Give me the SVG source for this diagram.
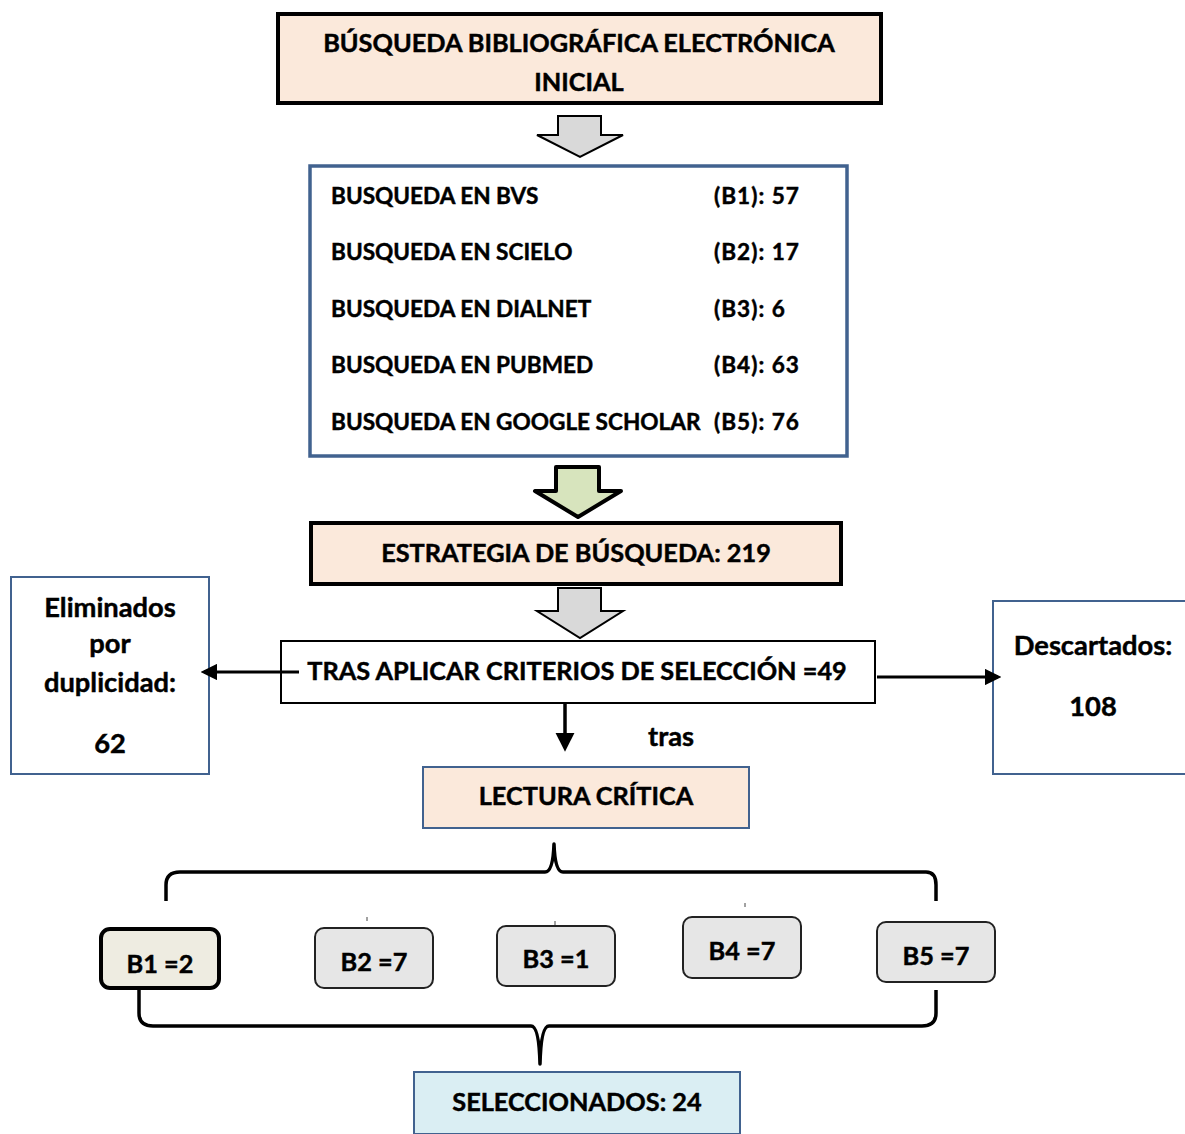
<svg xmlns="http://www.w3.org/2000/svg" width="1185" height="1134" viewBox="0 0 1185 1134">
<style>
text{font-family:Lato,"Liberation Sans",Arial,sans-serif;font-weight:bold;fill:#000;stroke:#000;stroke-width:0.45px;}
.t24{font-size:25.3px;text-anchor:middle;}
.tl{font-size:27.3px;text-anchor:middle;}
.t20{font-size:22.6px;}
.num{font-size:22.6px;letter-spacing:1px;}
.peach{fill:#FBE9DB;}
.blue{stroke:#41628F;}
.bk{stroke:#000;}
.bx{fill:#E6E6E6;stroke:#222;stroke-width:2;}
.conn{stroke:#000;stroke-width:3;fill:none;}
.brace{stroke:#000;stroke-width:3.5;fill:none;stroke-linejoin:round;}
.garrow{fill:#D9D9D9;stroke:#000;stroke-width:2;stroke-linejoin:miter;}
</style>
<defs>
<marker id="ah" viewBox="0 0 10 10" refX="8" refY="5" markerWidth="5.5" markerHeight="5.5" orient="auto" markerUnits="strokeWidth">
<path d="M0,0 L10,5 L0,10 z" fill="#000"/>
</marker>
</defs>
<rect width="1185" height="1134" fill="#fff"/>

<g id="n-inicial">
<rect x="278" y="14" width="603" height="89" class="peach bk" stroke-width="4"/>
<text class="t24" x="579" y="52">BÚSQUEDA BIBLIOGRÁFICA ELECTRÓNICA</text>
<text class="t24" x="579" y="91">INICIAL</text>
</g>

<g id="n-busquedas">
<rect x="310" y="166" width="537" height="290" fill="#fff" class="blue" stroke-width="3.5"/>
<text class="t20" x="331" y="204">BUSQUEDA EN BVS</text>
<text class="num" x="714" y="204">(B1): 57</text>
<text class="t20" x="331" y="260">BUSQUEDA EN SCIELO</text>
<text class="num" x="714" y="260">(B2): 17</text>
<text class="t20" x="331" y="317">BUSQUEDA EN DIALNET</text>
<text class="num" x="714" y="317">(B3): 6</text>
<text class="t20" x="331" y="373">BUSQUEDA EN PUBMED</text>
<text class="num" x="714" y="373">(B4): 63</text>
<text class="t20" x="331" y="430">BUSQUEDA EN GOOGLE SCHOLAR</text>
<text class="num" x="714" y="430">(B5): 76</text>
</g>

<g id="n-estrategia">
<rect x="311" y="523" width="530" height="61" class="peach bk" stroke-width="4"/>
<text class="t24" x="576" y="562">ESTRATEGIA DE BÚSQUEDA: 219</text>
</g>

<g id="n-tras">
<rect x="281" y="641" width="594" height="62" fill="#fff" class="bk" stroke-width="2"/>
<text class="t24" x="577" y="680">TRAS APLICAR CRITERIOS DE SELECCIÓN =49</text>
</g>

<g id="n-eliminados">
<rect x="11" y="577" width="198" height="197" fill="#fff" class="blue" stroke-width="2"/>
<text class="tl" x="110" y="617">Eliminados</text>
<text class="tl" x="110" y="653">por</text>
<text class="tl" x="110" y="692">duplicidad:</text>
<text class="tl" x="110" y="753">62</text>
</g>

<g id="n-descartados">
<rect x="993" y="601" width="200" height="173" fill="#fff" class="blue" stroke-width="2"/>
<text class="tl" x="1093" y="655">Descartados:</text>
<text class="tl" x="1093" y="716">108</text>
</g>

<g id="n-lectura">
<rect x="423" y="767" width="326" height="61" class="peach blue" stroke-width="2"/>
<text class="t24" x="586" y="805">LECTURA CRÍTICA</text>
</g>

<g id="n-b1">
<rect x="101" y="929" width="118" height="59" rx="9" fill="#EEECE1" stroke="#000" stroke-width="4"/>
<text class="t24" x="160" y="973">B1 =2</text>
</g>
<g id="n-b2">
<rect x="315" y="928" width="118" height="60" rx="9" class="bx"/>
<text class="t24" x="374" y="971">B2 =7</text>
</g>
<g id="n-b3">
<rect x="497" y="926" width="118" height="60" rx="9" class="bx"/>
<text class="t24" x="556" y="968">B3 =1</text>
</g>
<g id="n-b4">
<rect x="683" y="917" width="118" height="61" rx="9" class="bx"/>
<text class="t24" x="742" y="960">B4 =7</text>
</g>
<g id="n-b5">
<rect x="877" y="922" width="118" height="60" rx="9" class="bx"/>
<text class="t24" x="936" y="965">B5 =7</text>
</g>

<g id="n-seleccionados">
<rect x="414" y="1072" width="326" height="62" fill="#DAEEF3" class="blue" stroke-width="2"/>
<text class="t24" x="577" y="1111">SELECCIONADOS: 24</text>
</g>

<g id="connectors">
<path class="garrow" d="M558,116 H601 V135 H623 L580,157 L537,135 H558 Z"/>
<path d="M556,467 H599 V491 H621 L578,517 L535,491 H556 Z" fill="#D7E4BD" stroke="#000" stroke-width="4" stroke-linejoin="round"/>
<path class="garrow" d="M558,588 H601 V611 H623 L580,638 L537,611 H558 Z"/>
<line class="conn" x1="299" y1="672" x2="204" y2="672" marker-end="url(#ah)"/>
<line class="conn" x1="877" y1="677" x2="998" y2="677" marker-end="url(#ah)"/>
<line class="conn" x1="565" y1="703" x2="565" y2="748" marker-end="url(#ah)" style="stroke-width:3.5"/>
<text x="671" y="746" class="tl">tras</text>
<path class="brace" d="M166,901 V885 Q166,872 180,872 H545 Q553,872 554,844 Q555,872 563,872 H926 Q936,872 936,885 V901"/>
<path class="brace" d="M139,990 V1013 Q139,1026 153,1026 H531 Q539,1026 540,1064 Q541,1026 549,1026 H922 Q936,1026 936,1013 V990"/>
<g stroke="#444" stroke-width="1">
<line x1="367" y1="917" x2="367" y2="921"/>
<line x1="555" y1="921" x2="555" y2="925"/>
<line x1="745" y1="903" x2="745" y2="907"/>
</g>
</g>
</svg>
